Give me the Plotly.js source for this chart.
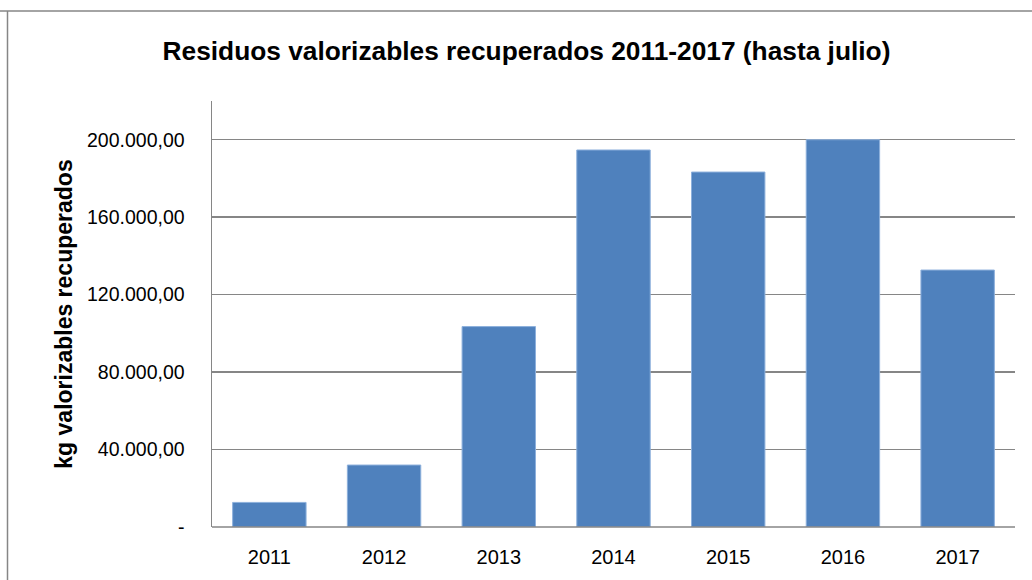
<!DOCTYPE html>
<html>
<head>
<meta charset="utf-8">
<script src="https://cdn.plot.ly/plotly-3.0.1.min.js"></script>
<style>html,body{margin:0;padding:0;background:#fff;}#chart{width:1032px;height:580px;}</style>
</head>
<body>
<div id="chart"></div>
<script>
const years = ['2011','2012','2013','2014','2015','2016','2017'];
const kgRecuperados = [12700, 32000, 103500, 194700, 183300, 200000, 132700];
const tickValues = [0, 40000, 80000, 120000, 160000, 200000];
const tickLabels = ['-', '40.000,00', '80.000,00', '120.000,00', '160.000,00', '200.000,00'];

const FONT = '"Liberation Sans Narrow", "Arial Narrow", "Liberation Sans", Arial, sans-serif';
const L = 212, R = 17, T = 101, B = 52.5;
const W = 1032, H = 580;
const pw = W - L - R, ph = H - T - B;
const px = x => (x - L) / pw;
const py = y => (H - B - y) / ph;

const trace = {
  type: 'bar',
  x: years,
  y: kgRecuperados,
  marker: {color: '#4F81BD', line: {color: '#8DB0DC', width: 1}},
  hoverinfo: 'x+y'
};

const layout = {
  width: W, height: H,
  margin: {l: L, r: R, t: T, b: B, pad: 0},
  paper_bgcolor: '#ffffff',
  plot_bgcolor: '#ffffff',
  showlegend: false,
  bargap: 0.36,
  font: {family: FONT, color: '#000000'},
  title: {
    text: '<b>Residuos valorizables recuperados 2011-2017 (hasta julio)</b>',
    font: {family: FONT, size: 26.3, color: '#000000'},
    x: 526.5 / W, xref: 'container', xanchor: 'center',
    y: 1 - 51 / H, yref: 'container', yanchor: 'middle'
  },
  xaxis: {
    type: 'category',
    showgrid: false,
    showline: false,
    ticks: '',
    ticklabelstandoff: 16,
    tickfont: {family: FONT, size: 20, color: '#000000'},
    fixedrange: true
  },
  yaxis: {
    range: [0, 220000],
    tickvals: tickValues,
    ticktext: tickLabels,
    showgrid: true,
    gridcolor: '#868686',
    gridwidth: 1.5,
    zeroline: false,
    showline: true,
    linecolor: '#868686',
    linewidth: 1.5,
    ticks: '',
    ticklabelstandoff: 22,
    tickfont: {family: FONT, size: 19.5, color: '#000000'},
    title: {
      text: '<b>kg valorizables recuperados</b>',
      font: {family: FONT, size: 23, color: '#000000'},
      standoff: 8
    },
    fixedrange: true
  },
  shapes: [
    {type: 'line', xref: 'paper', yref: 'paper', x0: 0, x1: 1, y0: 0, y1: 0, line: {color: '#868686', width: 1.5}},
    {type: 'line', xref: 'paper', yref: 'paper', x0: px(0), x1: px(W + 5), y0: py(11), y1: py(11), line: {color: '#868686', width: 1.5}},
    {type: 'line', xref: 'paper', yref: 'paper', x0: px(7.5), x1: px(7.5), y0: py(11), y1: py(H + 5), line: {color: '#868686', width: 1.5}}
  ]
};

Plotly.newPlot('chart', [trace], layout, {displayModeBar: false, staticPlot: true});
</script>
</body>
</html>
